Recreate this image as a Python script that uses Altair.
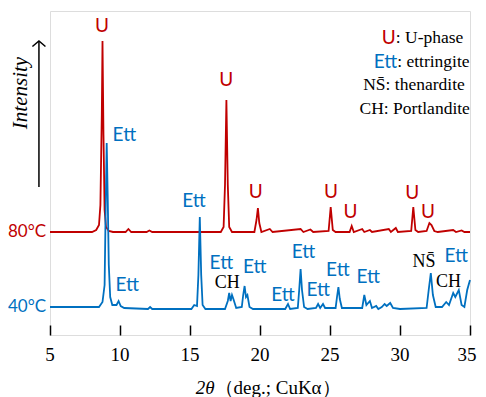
import altair as alt
import pandas as pd

RED = "#C00000"
BLUE = "#0070C0"
SANS = "Lato"
SERIF = "Liberation Serif"

# 80 °C pattern (2theta, intensity in plot units)
red_x = [5.0, 8.0, 8.3, 8.5, 8.6, 8.7, 8.75, 8.82, 8.9, 9.0, 9.2, 9.5, 10.4, 10.6, 10.8, 11.9, 12.1, 12.3,
         17.2, 17.4, 17.5, 17.6, 17.7, 17.8, 18.0, 19.6, 19.75, 19.85, 19.95, 20.1, 20.7, 20.9,
         22.9, 23.1, 23.6, 23.8, 24.9, 25.05, 25.2, 25.4, 26.4, 26.55, 26.7, 27.3, 27.45, 27.85, 28.0,
         29.2, 29.35, 29.7, 29.85, 30.8, 30.95, 31.1, 31.3, 31.9, 32.1, 32.25, 32.45, 32.7,
         33.8, 34.0, 34.4, 34.6, 35.0]
red_v = [103, 103, 105, 110, 130, 220, 294, 200, 125, 108, 104, 103, 103, 106, 103, 103, 104.5, 103,
         103, 108, 150, 235, 150, 108, 103, 103, 115, 127, 112, 103, 106, 103,
         106, 103, 105.5, 103, 104, 128, 105, 103, 103, 109, 103, 106, 103, 105, 103,
         106, 103, 107, 103, 104, 128, 105, 103, 104, 112, 110, 104, 103,
         105, 103, 104.5, 103, 103]

# 40 °C pattern
blue_x = [5.0, 8.5, 8.75, 8.9, 8.98, 9.05, 9.12, 9.2, 9.3, 9.45, 9.75, 9.9, 10.05, 10.3, 12.0, 12.15, 12.3,
          15.1, 15.3, 15.5, 15.6, 15.7, 15.8, 15.9, 16.1, 17.5, 17.7, 17.8, 17.9, 18.0, 18.1, 18.3,
          18.7, 18.8, 18.9, 19.0, 19.1, 19.25, 19.5, 21.8, 22.0, 22.15, 22.7, 22.8, 22.9, 23.0, 23.15,
          23.4, 24.0, 24.15, 24.3, 24.5, 24.65, 25.4, 25.5, 25.6, 25.7, 25.85, 27.3, 27.45, 27.6,
          27.85, 28.0, 28.3, 28.45, 28.7, 28.9, 29.05, 29.3, 29.5, 30.0, 31.9, 32.05, 32.2, 32.35,
          32.55, 33.0, 33.3, 33.5, 33.8, 33.95, 34.2, 34.4, 34.6, 34.8, 35.0]
blue_v = [28, 28, 33, 50, 130, 192, 140, 70, 38, 30, 30, 34, 29, 27, 26, 28, 26,
          26, 30, 29, 60, 118, 60, 30, 26, 26, 34, 42, 34, 40, 36, 27,
          28, 40, 49, 38, 40, 28, 26, 26, 31, 26, 27, 45, 66, 45, 28,
          26, 27, 31, 27, 31, 27, 27, 38, 48, 36, 27, 27, 40, 30,
          34, 27, 29, 26, 28, 31, 29, 32, 27, 26, 27, 45, 62, 40,
          28, 28, 33, 30, 42, 38, 45, 30, 28, 45, 55]

# peak labels
u_x = [8.71, 17.59, 19.69, 25.07, 26.47, 30.87, 31.99]
u_v = [309, 255, 143, 143, 123, 142, 123]
ett_x = [10.31, 10.52, 15.28, 17.24, 19.62, 21.64, 23.11, 24.16, 25.56, 27.73, 34.02]
ett_v = [200, 50, 134, 72, 68, 40, 83, 45, 65, 58, 79]
blk_text = ["CH", "NS\u0304", "CH"]
blk_x = [17.66, 31.71, 33.46]
blk_v = [52, 73, 53]

# key (legend) lines
key_col_text = ["U", "Ett"]
key_col_color = [RED, BLUE]
key_col_x = [29.7, 29.8]
key_col_v = [297, 273]
key_blk_text = [": U-phase", ": ettringite"]
key_blk_x = [29.7, 29.8]
key_blk_v = [297, 273]
key_c_text = ["NS\u0304: thenardite", "CH: Portlandite"]
key_c_x = [31.0, 31.05]
key_c_v = [250, 226]

side_text = ["80\u00b0C", "40\u00b0C"]
side_color = [RED, BLUE]
side_x = [4.72, 4.72]
side_v = [103, 28]

arrow_x = [4.21]
arrow_v0 = [148]
arrow_v1 = [294]
inten_x = [2.95]
inten_v = [242]

# x axis: ticks, tick labels and title
xticks = [5, 10, 15, 20, 25, 30, 35]
tick_label_v = -20
title_x = 16.75
title_v = -53
title_a = "2\u03b8"
title_b = "\uff08deg.; CuK\u03b1\uff09"

xs = alt.Scale(domain=[5, 35], nice=False, zero=False)
ys = alt.Scale(domain=[0, 324], nice=False, zero=False)
x_axis = alt.Axis(values=xticks, title=None, grid=False, domain=False, labels=False,
                  offset=-10, tickSize=10, tickColor="black", tickWidth=1.5)


def X(f="x"):
    return alt.X(f"{f}:Q", scale=xs, axis=x_axis)


def Y(f="v"):
    return alt.Y(f"{f}:Q", scale=ys, axis=None)


red_df = pd.DataFrame({"x": red_x, "v": red_v})
blue_df = pd.DataFrame({"x": blue_x, "v": blue_v})

red_line = alt.Chart(red_df).mark_line(color=RED, strokeWidth=1.8).encode(x=X(), y=Y())
blue_line = alt.Chart(blue_df).mark_line(color=BLUE, strokeWidth=1.8).encode(x=X(), y=Y())

u_lab = alt.Chart(pd.DataFrame({"x": u_x, "v": u_v})).mark_text(
    text="U", color=RED, font=SANS, fontSize=19).encode(x=X(), y=Y())
ett_lab = alt.Chart(pd.DataFrame({"x": ett_x, "v": ett_v})).mark_text(
    text="Ett", color=BLUE, font=SANS, fontSize=19).encode(x=X(), y=Y())
blk_lab = alt.Chart(pd.DataFrame({"x": blk_x, "v": blk_v, "t": blk_text})).mark_text(
    color="black", font=SERIF, fontSize=18).encode(x=X(), y=Y(), text="t:N")

key_col = alt.Chart(pd.DataFrame({"x": key_col_x, "v": key_col_v, "t": key_col_text, "c": key_col_color})).mark_text(
    font=SANS, fontSize=19, align="right").encode(x=X(), y=Y(), text="t:N", color=alt.Color("c:N", scale=None))
key_blk = alt.Chart(pd.DataFrame({"x": key_blk_x, "v": key_blk_v, "t": key_blk_text})).mark_text(
    font=SERIF, fontSize=17.5, align="left", color="black").encode(x=X(), y=Y(), text="t:N")
key_c = alt.Chart(pd.DataFrame({"x": key_c_x, "v": key_c_v, "t": key_c_text})).mark_text(
    font=SERIF, fontSize=17.5, align="center", color="black").encode(x=X(), y=Y(), text="t:N")

side = alt.Chart(pd.DataFrame({"x": side_x, "v": side_v, "t": side_text, "c": side_color})).mark_text(
    font=SANS, fontSize=17, align="right").encode(x=X(), y=Y(), text="t:N", color=alt.Color("c:N", scale=None))

arrow_df = pd.DataFrame({"x": arrow_x, "v0": arrow_v0, "v1": arrow_v1})
arrow = alt.Chart(arrow_df).mark_rule(color="black", strokeWidth=1.5).encode(x=X(), y=Y("v0"), y2="v1:Q")
head = alt.Chart(arrow_df).mark_point(shape="M-1,0.85L0,0L1,0.85", filled=False, color="black",
                                      strokeWidth=1.5, size=170, opacity=1).encode(x=X(), y=Y("v1"))
inten = alt.Chart(pd.DataFrame({"x": inten_x, "v": inten_v})).mark_text(
    text="Intensity", font=SERIF, fontStyle="italic", fontSize=21, angle=270, color="black").encode(x=X(), y=Y())

tl_df = pd.DataFrame({"x": xticks[:-1], "v": [tick_label_v] * (len(xticks) - 1),
                      "t": [str(t) for t in xticks[:-1]]})
tl_last = pd.DataFrame({"x": xticks[-1:], "v": [tick_label_v], "t": [str(xticks[-1])]})
tick_labels = alt.Chart(tl_df).mark_text(font=SERIF, fontSize=19, color="black").encode(
    x=X(), y=Y(), text="t:N")
tick_last = alt.Chart(tl_last).mark_text(font=SERIF, fontSize=19, color="black", dx=-3).encode(
    x=X(), y=Y(), text="t:N")

ttl_df = pd.DataFrame({"x": [title_x], "v": [title_v]})
title1 = alt.Chart(ttl_df).mark_text(text=title_a, font=SERIF, fontStyle="italic", fontSize=19,
                                     align="right", color="black").encode(x=X(), y=Y())
title2 = alt.Chart(ttl_df).mark_text(text=title_b, font=SERIF, fontSize=19,
                                     align="left", color="black").encode(x=X(), y=Y())

chart = alt.layer(red_line, blue_line, u_lab, ett_lab, blk_lab, key_col, key_blk, key_c, side,
                  arrow, head, inten, tick_labels, tick_last, title1, title2).properties(
    width=420, height=324,
    padding={"left": 42, "top": 3, "right": 8, "bottom": 62},
    autosize=alt.AutoSizeParams(type="none"),
).configure_view(stroke="black", strokeWidth=2).configure(background="white")

chart.save("out.html", embed_options={"renderer": "svg", "actions": False})
